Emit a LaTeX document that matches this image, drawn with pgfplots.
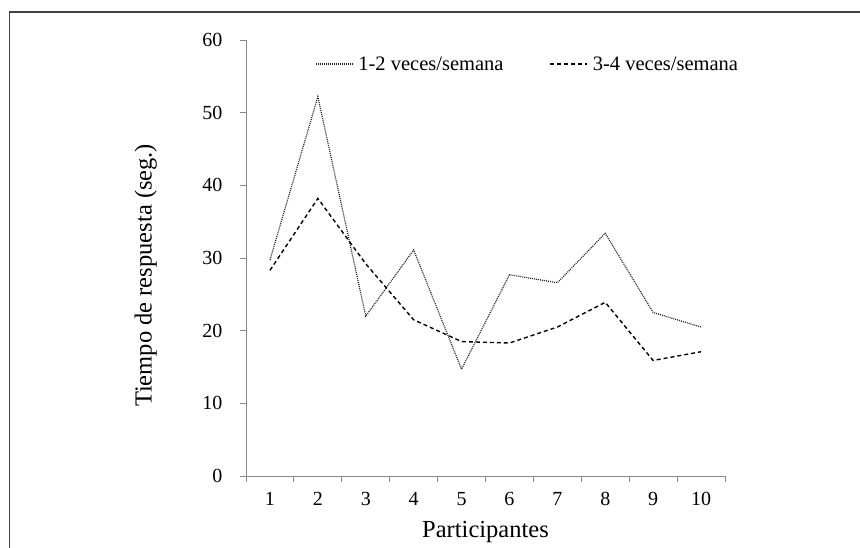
\documentclass[border=0pt]{standalone}
\usepackage{fontspec}
\setmainfont{Liberation Serif}
\usepackage{pgfplots}
\pgfplotsset{compat=1.18}

\definecolor{axgray}{RGB}{137,137,137}
\definecolor{framegray}{RGB}{64,64,64}

\begin{document}
\begin{tikzpicture}[x=1pt,y=1pt]
\path[use as bounding box] (0,0) rectangle (860,547);
\begin{scope}
  \clip (0,0) rectangle (860,547);
  \draw[line width=1.3pt, color=framegray] (9.5,-20) -- (9.5,535) -- (900,535);
\end{scope}
\begin{axis}[
    at={(246pt,71pt)}, anchor=south west,
    scale only axis, width=479pt, height=436pt,
    xmin=0.5, xmax=10.5, ymin=0, ymax=60,
    axis x line*=bottom, axis y line*=left,
    axis line style={draw=axgray, line width=1pt},
    tick align=outside,
    xtick={1,...,10},
    minor xtick={0.5,1.5,...,10.5},
    major x tick style={draw=none},
    minor x tick style={draw=axgray, line width=1pt},
    minor tick length=6pt,
    ytick={0,10,...,60},
    major tick length=6pt,
    y tick style={draw=axgray, line width=1pt},
    ticklabel style={font=\fontsize{20}{22}\selectfont},
    xticklabel style={yshift=-7pt},
    yticklabel style={xshift=-14pt},
    /pgf/number format/assume math mode=true,
    xlabel={Participantes},
    ylabel={Tiempo de respuesta (seg.)},
    label style={font=\fontsize{24.5}{28}\selectfont},
    xlabel style={at={(axis description cs:0.5,-0.142)}, anchor=base},
    ylabel style={at={(axis description cs:-0.209,0.46)}, anchor=center},
    legend columns=2,
    legend style={at={(axis description cs:0.144,0.945)}, anchor=west,
      draw=none, fill=none, inner sep=0pt,
      font=\fontsize{20.5}{24}\selectfont,
      /tikz/every even column/.append style={column sep=44pt},
      /tikz/every odd column/.append style={column sep=3pt}},
    legend image code/.code={\draw[#1] (0pt,0pt) -- (37pt,0pt);},
]
\addplot[color=black!85, line width=1.2pt, dash pattern=on 1pt off 1pt]
 coordinates {(1,29.7) (2,52.2) (3,22.0) (4,31.1) (5,14.7) (6,27.7) (7,26.6) (8,33.4) (9,22.5) (10,20.5)};
\addlegendentry{1-2 veces/semana}
\addplot[color=black, line width=1.4pt, dash pattern=on 4pt off 3pt]
 coordinates {(1,28.3) (2,38.2) (3,29.2) (4,21.5) (5,18.5) (6,18.3) (7,20.5) (8,23.9) (9,15.9) (10,17.1)};
\addlegendentry{3-4 veces/semana}
\end{axis}
\end{tikzpicture}
\end{document}
